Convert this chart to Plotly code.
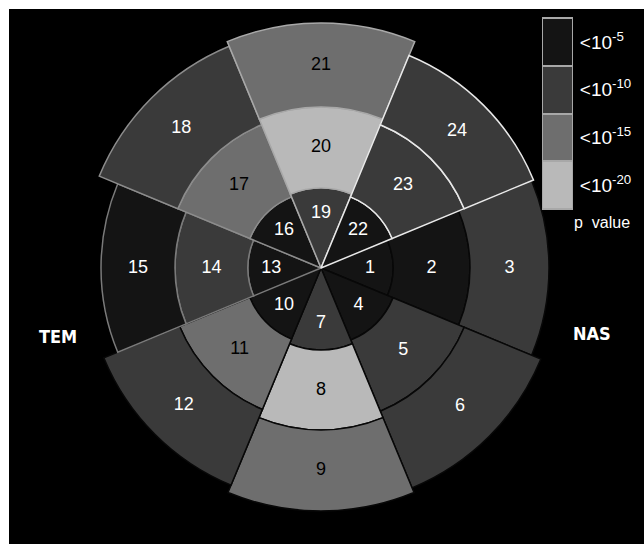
import plotly.graph_objects as go

# Eight sectors around the centre, listed from the nasal side (0 deg) clockwise
# through inferior, temporal and superior; each sector has three rings.
directions = [0, 315, 270, 225, 180, 135, 90, 45]
sector_width = 45
inner_r = [72, 78, 82, 77, 73, 77, 80, 77]
middle_r = [149, 155, 162, 153, 146, 155, 161, 155]
outer_r = [228, 238, 243, 235, 220, 240, 245, 230]

# Segment numbers 1..24 and the p-value class (exponent) of each segment
segment_ids = list(range(1, 25))
p_exp = [-5, -5, -10,
         -5, -10, -10,
         -10, -20, -15,
         -5, -15, -10,
         -5, -10, -5,
         -5, -15, -10,
         -10, -20, -15,
         -5, -10, -10]

legend_exp = [-5, -10, -15, -20]
legend_text = ["&lt;10<sup>-5</sup>", "&lt;10<sup>-10</sup>",
               "&lt;10<sup>-15</sup>", "&lt;10<sup>-20</sup>"]

shade = {-5: "#141414", -10: "#3a3a3a", -15: "#6e6e6e", -20: "#b9b9b9"}
edge_by_sector = ["#080808", "#080808", "#080808", "#080808",
                  "#7a7a7a", "#8c8c8c", "#a8a8a8", "#e8e8e8"]
FONT = "Liberation Sans, Arial, sans-serif"
NARROW = "Liberation Sans Narrow, Arial Narrow, DejaVu Sans Condensed, sans-serif"

theta, base, length, fill, edge, label_r, label_col = [], [], [], [], [], [], []
for k, d in enumerate(directions):
    bounds = [0, inner_r[k], middle_r[k], outer_r[k]]
    for ring in range(3):
        i = 3 * k + ring
        theta.append(d)
        base.append(bounds[ring])
        length.append(bounds[ring + 1] - bounds[ring])
        fill.append(shade[p_exp[i]])
        edge.append(edge_by_sector[k])
        if ring == 0:
            label_r.append(0.68 * bounds[1])
        else:
            label_r.append((bounds[ring] + bounds[ring + 1]) / 2)
        label_col.append("white" if p_exp[i] in (-5, -10) else "black")

fig = go.Figure()

fig.add_trace(go.Barpolar(
    r=length, base=base, theta=theta, width=[sector_width] * len(theta),
    marker=dict(color=fill, line=dict(color=edge, width=1.5)),
    hoverinfo="skip", showlegend=False,
))

fig.add_trace(go.Scatterpolar(
    r=label_r, theta=theta, mode="text",
    text=[str(s) for s in segment_ids],
    textfont=dict(color=label_col, size=18, family=FONT),
    hoverinfo="skip", showlegend=False,
))

# p-value key drawn as a one-column heatmap
scale_vals = sorted(shade)
lo, hi = min(scale_vals), max(scale_vals)
colorscale = [[(v - lo) / (hi - lo), shade[v]] for v in scale_vals]
fig.add_trace(go.Heatmap(
    z=[[e] for e in legend_exp], y=legend_text, x=[0],
    colorscale=colorscale, zmin=lo, zmax=hi, showscale=False,
    ygap=2, hoverinfo="skip", xaxis="x", yaxis="y",
))

W, H = 644, 544
fig.update_layout(
    width=W, height=H, autosize=False,
    margin=dict(l=0, r=0, t=0, b=0),
    paper_bgcolor="black", plot_bgcolor="#a8a8a8",
    polar=dict(
        domain=dict(x=[71 / W, 571 / W], y=[26 / H, 526 / H]),
        bgcolor="rgba(0,0,0,0)", bargap=0,
        radialaxis=dict(visible=False, range=[0, 250]),
        angularaxis=dict(visible=False, rotation=0, direction="counterclockwise"),
    ),
    xaxis=dict(domain=[543 / W, 572 / W], anchor="y", showticklabels=False,
               showgrid=False, zeroline=False, showline=True, mirror=True,
               linecolor="#a8a8a8", linewidth=1, fixedrange=True),
    yaxis=dict(domain=[1 - 209 / H, 1 - 18 / H], anchor="x", side="right",
               autorange="reversed", ticks="", showgrid=False, zeroline=False,
               showline=True, mirror=True, linecolor="#a8a8a8", linewidth=1,
               tickfont=dict(color="white", size=19, family=FONT),
               ticklabelstandoff=3, fixedrange=True),
    shapes=[
        dict(type="rect", xref="paper", yref="paper", x0=0, x1=9 / W, y0=0, y1=1,
             fillcolor="white", line=dict(width=0), layer="below"),
        dict(type="rect", xref="paper", yref="paper", x0=0, x1=1, y0=1 - 9 / H, y1=1,
             fillcolor="white", line=dict(width=0), layer="below"),
    ],
    annotations=[
        dict(text="p\u00a0 value", x=602 / W, y=1 - 222 / H, xref="paper", yref="paper",
             xanchor="center", yanchor="middle", showarrow=False,
             font=dict(color="white", size=16, family=FONT)),
        dict(text="<b>TEM</b>", x=58 / W, y=1 - 336 / H, xref="paper", yref="paper",
             xanchor="center", yanchor="middle", showarrow=False,
             font=dict(color="white", size=18, family=NARROW)),
        dict(text="<b>NAS</b>", x=592 / W, y=1 - 333 / H, xref="paper", yref="paper",
             xanchor="center", yanchor="middle", showarrow=False,
             font=dict(color="white", size=18, family=NARROW)),
    ],
)

fig.write_html("out.html")
